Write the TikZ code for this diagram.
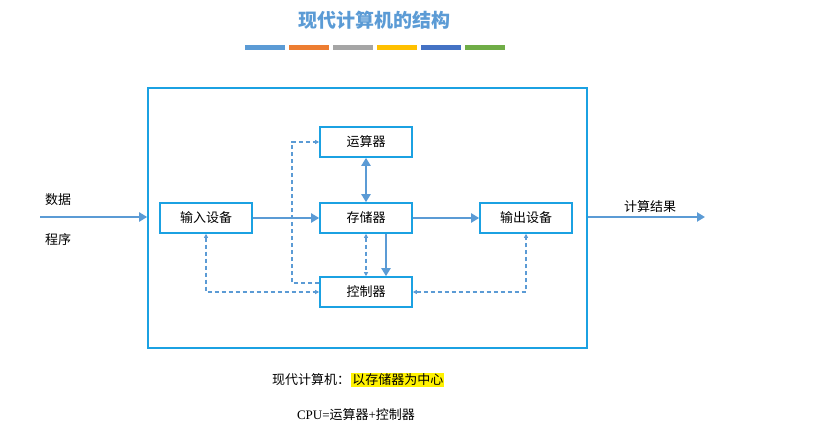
\documentclass[tikz,border=0pt]{standalone}
\usepackage{fontspec}
\setmainfont{Liberation Serif}
\newfontfamily\cjk{Noto Sans CJK SC}
\usetikzlibrary{arrows.meta}
\definecolor{ln}{HTML}{5B9BD5}
\definecolor{bx}{HTML}{1BA1E2}
\begin{document}
\begin{tikzpicture}[x=1pt,y=-1pt,
 box/.style={draw=bx,line width=1.6pt,minimum width=92pt,minimum height=30pt,inner sep=0pt,font=\cjk\fontsize{13}{13}\selectfont},
 thick arr/.style={draw=ln,line width=2.6pt,-{Triangle[length=8pt,width=9pt]}},
 dash arr/.style={draw=ln,line width=1.1pt,dash pattern=on 4pt off 3pt,-{Triangle[length=4pt,width=4pt]}},
 lbl/.style={font=\cjk\fontsize{13}{13}\selectfont,inner sep=0pt}]
\useasboundingbox (0,0) rectangle (821,439);
\node[font=\cjk\bfseries\fontsize{19}{19}\selectfont,text=ln] (title) at (374,20) {现代计算机的结构};
\foreach \c [count=\i] in {5B9BD5,ED7D31,A5A5A5,FFC000,4472C4,70AD47}{
  \definecolor{bar}{HTML}{\c}
  \fill[bar] (245+44*\i-44,45) rectangle ++(40,5);
}
\node[draw=bx,line width=1.6pt,minimum width=439pt,minimum height=260pt,inner sep=0pt] (frame) at (367.5,218) {};
\node[box] (alu) at (366,142) {运算器};
\node[box] (mem) at (366,218) {存储器};
\node[box] (ctl) at (366,292) {控制器};
\node[box] (in) at (206,218) {输入设备};
\node[box] (out) at (526,218) {输出设备};
\coordinate (lin) at (40,217);
\coordinate (rout) at (705,217);
\draw[thick arr] (lin) -- (frame.west|-lin);
\draw[thick arr] (frame.east|-rout) -- (rout);
\node[lbl] (d1) at (58,200) {数据};
\node[lbl] (d2) at (58,240) {程序};
\node[lbl] (res) at (650,207) {计算结果};
\draw[thick arr] (in) -- (mem);
\draw[thick arr] (mem) -- (out);
\draw[draw=ln,line width=2.6pt,{Triangle[length=8pt,width=9pt]}-{Triangle[length=8pt,width=9pt]}] (alu) -- (mem);
\draw[thick arr] ([xshift=20pt]mem.south) -- ([xshift=20pt]ctl.north);
\draw[dash arr,{Triangle[length=4pt,width=4pt]}-{Triangle[length=4pt,width=4pt]}] (mem) -- (ctl);
\coordinate (k1) at (292,283);
\draw[dash arr] (ctl.west|-k1) -- (k1) -- (k1|-alu) -- (alu);
\coordinate (k2) at (206,292);
\draw[dash arr,{Triangle[length=4pt,width=4pt]}-{Triangle[length=4pt,width=4pt]}] (in) -- (k2) -- (ctl.west|-k2);
\coordinate (k3) at (526,292);
\draw[dash arr,{Triangle[length=4pt,width=4pt]}-{Triangle[length=4pt,width=4pt]}] (ctl.east|-k3) -- (k3) -- (out);
\node[font=\cjk\fontsize{13}{13}\selectfont,inner sep=1pt] (m1) at (311,380) {现代计算机：};
\node[font=\cjk\fontsize{13}{13}\selectfont,fill=yellow,inner sep=1pt,anchor=west] (m2) at (m1.east) {以存储器为中心};
\node[font=\fontsize{13}{13}\selectfont,inner sep=0pt] (cpu) at (356,415) {CPU={\cjk 运算器}+{\cjk 控制器}};
\end{tikzpicture}
\end{document}
